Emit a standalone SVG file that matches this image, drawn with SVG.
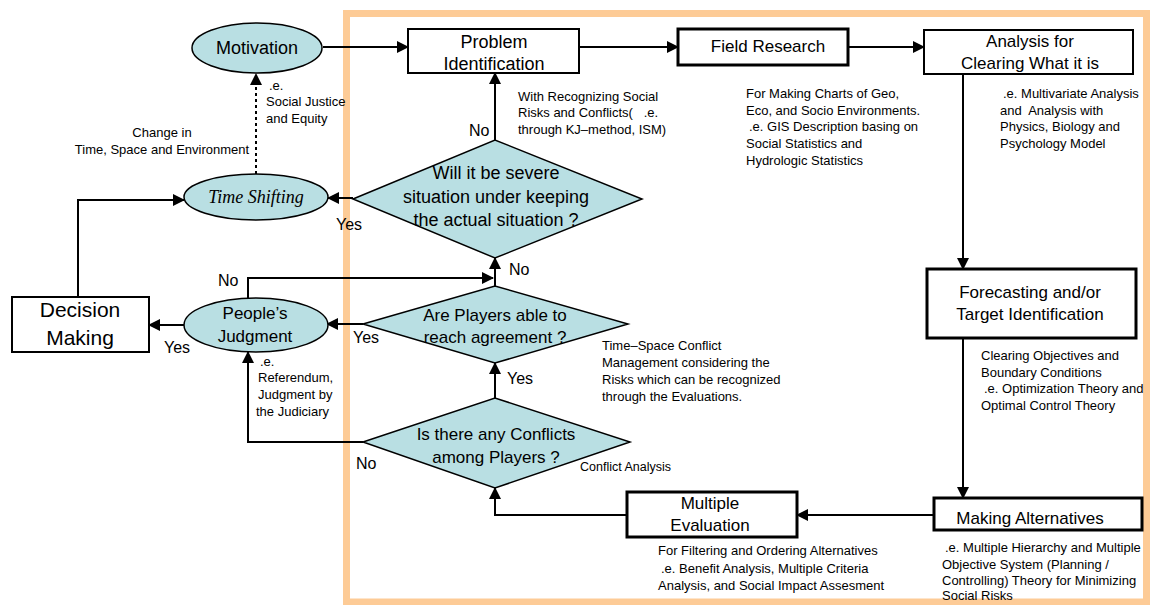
<svg xmlns="http://www.w3.org/2000/svg" width="1151" height="605" viewBox="0 0 1151 605">
<style>
text{font-family:"Liberation Sans",Arial,sans-serif;fill:#000}
.big{font-size:18px}
.mid{font-size:17px}
.lab{font-size:16px}
.note{font-size:13px}
.c{text-anchor:middle}
.oval{fill:#B9DFE3;stroke:#000;stroke-width:1.5}
.dia{fill:#B9DFE3;stroke:#000;stroke-width:1.5}
.box{fill:#fff;stroke:#000;stroke-width:2}
.box3{fill:#fff;stroke:#000;stroke-width:3}
.con{fill:none;stroke:#000;stroke-width:2}
</style>
<defs>
<marker id="ah" markerUnits="userSpaceOnUse" markerWidth="12" markerHeight="12" refX="11" refY="6" orient="auto">
<path d="M0,0 L12,6 L0,12 z" fill="#000"/>
</marker>
</defs>
<rect x="0" y="0" width="1151" height="605" fill="#fff"/>
<rect id="frame" x="346.5" y="13.5" width="800" height="588.5" fill="none" stroke="#FDCB96" stroke-width="7"/>

<g id="connectors">
<path class="con" d="M323,47 H408" marker-end="url(#ah)"/>
<path class="con" d="M579,47 H678" marker-end="url(#ah)"/>
<path class="con" d="M848,47 H924" marker-end="url(#ah)"/>
<path class="con" d="M963,74 V269" marker-end="url(#ah)"/>
<path class="con" d="M963,338 V498" marker-end="url(#ah)"/>
<path class="con" d="M934,515 H797" marker-end="url(#ah)"/>
<path class="con" d="M627,515 H495 V488" marker-end="url(#ah)"/>
<path class="con" d="M495,398 V363" marker-end="url(#ah)"/>
<path class="con" d="M495,286 V258" marker-end="url(#ah)"/>
<path class="con" d="M495,140 V73" marker-end="url(#ah)"/>
<path class="con" d="M353,198 H328" marker-end="url(#ah)"/>
<path class="con" d="M78,297 V200 H184" marker-end="url(#ah)"/>
<path class="con" d="M184,325 H149" marker-end="url(#ah)"/>
<path class="con" d="M363,324 H327" marker-end="url(#ah)"/>
<path class="con" d="M248,298 V278 H493" marker-end="url(#ah)"/>
<path class="con" d="M363,442 H248 V352" marker-end="url(#ah)"/>
<path class="con" d="M256,174 V74" stroke-dasharray="3,3" marker-end="url(#ah)"/>
<text class="lab" x="469" y="136">No</text>
<text class="lab" x="336" y="230">Yes</text>
<text class="lab" x="509" y="275">No</text>
<text class="lab" x="353" y="343">Yes</text>
<text class="lab" x="507" y="384">Yes</text>
<text class="lab" x="356" y="469">No</text>
<text class="lab" x="164" y="353">Yes</text>
<text class="lab" x="218" y="286">No</text>
</g>

<g id="motivation">
<ellipse class="oval" cx="257" cy="48" rx="65" ry="25"/>
<text class="big c" x="257" y="54">Motivation</text>
</g>
<g id="note-justice">
<text class="note" x="269" y="90">.e.</text>
<text class="note" x="266" y="106">Social Justice</text>
<text class="note" x="266" y="123">and Equity</text>
</g>
<g id="note-change">
<text class="note c" x="162" y="137">Change in</text>
<text class="note c" x="162" y="154">Time, Space and Environment</text>
</g>
<g id="time-shifting">
<ellipse class="oval" cx="256" cy="197" rx="72" ry="23"/>
<text class="c" x="256" y="203" style="font-family:'Liberation Serif','Times New Roman',serif;font-style:italic;font-size:18px">Time Shifting</text>
</g>
<g id="decision-making">
<rect class="box" x="12" y="297" width="137" height="55"/>
<text class="c" x="80" y="317" style="font-size:21px">Decision</text>
<text class="c" x="80" y="345" style="font-size:21px">Making</text>
</g>
<g id="peoples-judgment">
<ellipse class="oval" cx="256" cy="325" rx="72" ry="27"/>
<text class="mid c" x="255" y="319">People’s</text>
<text class="mid c" x="255" y="342">Judgment</text>
</g>
<g id="note-referendum">
<text class="note" x="260" y="366">.e.</text>
<text class="note" x="258" y="382">Referendum,</text>
<text class="note" x="258" y="399">Judgment by</text>
<text class="note" x="256" y="416">the Judiciary</text>
</g>
<g id="problem-identification">
<rect class="box" x="408" y="29" width="171" height="44"/>
<text class="big c" x="494" y="48">Problem</text>
<text class="big c" x="494" y="70">Identification</text>
</g>
<g id="note-recognizing">
<text class="note" x="518" y="101">With Recognizing Social</text>
<text class="note" x="518" y="117" xml:space="preserve">Risks and Conflicts(   .e.</text>
<text class="note" x="518" y="134">through KJ–method, ISM)</text>
</g>
<g id="field-research">
<rect class="box3" x="678" y="29" width="170" height="36"/>
<text class="mid c" x="768" y="52">Field Research</text>
</g>
<g id="note-field">
<text class="note" x="746" y="98">For Making Charts of Geo,</text>
<text class="note" x="746" y="115">Eco, and Socio Environments.</text>
<text class="note" x="749" y="131">.e. GIS Description basing on</text>
<text class="note" x="746" y="148">Social Statistics and</text>
<text class="note" x="746" y="165">Hydrologic Statistics</text>
</g>
<g id="analysis">
<rect class="box" x="924" y="30" width="209" height="44" stroke-width="2.5"/>
<text class="mid c" x="1030" y="47">Analysis for</text>
<text class="mid c" x="1030" y="69">Clearing What it is</text>
</g>
<g id="note-analysis">
<text class="note" x="1003" y="98">.e. Multivariate Analysis</text>
<text class="note" x="1000" y="115" xml:space="preserve">and  Analysis with</text>
<text class="note" x="1000" y="131">Physics, Biology and</text>
<text class="note" x="1000" y="148">Psychology Model</text>
</g>
<g id="forecasting">
<rect class="box3" x="927" y="269" width="209" height="69"/>
<text class="mid c" x="1030" y="298">Forecasting and/or</text>
<text class="mid c" x="1030" y="320">Target Identification</text>
</g>
<g id="note-forecasting">
<text class="note" x="981" y="360">Clearing Objectives and</text>
<text class="note" x="981" y="377">Boundary Conditions</text>
<text class="note" x="984" y="393">.e. Optimization Theory and</text>
<text class="note" x="981" y="410">Optimal Control Theory</text>
</g>
<g id="making-alternatives">
<rect class="box3" x="934" y="498" width="208" height="32"/>
<text class="mid c" x="1030" y="524">Making Alternatives</text>
</g>
<g id="note-alternatives">
<text class="note" x="945" y="552">.e. Multiple Hierarchy and Multiple</text>
<text class="note" x="942" y="569">Objective System (Planning /</text>
<text class="note" x="942" y="585">Controlling) Theory for Minimizing</text>
<text class="note" x="942" y="600">Social Risks</text>
</g>
<g id="multiple-evaluation">
<rect class="box3" x="627" y="492" width="170" height="45"/>
<text class="mid c" x="710" y="509">Multiple</text>
<text class="mid c" x="710" y="531">Evaluation</text>
</g>
<g id="note-evaluation">
<text class="note" x="658" y="555">For Filtering and Ordering Alternatives</text>
<text class="note" x="661" y="573">.e. Benefit Analysis, Multiple Criteria</text>
<text class="note" x="658" y="590">Analysis, and Social Impact Assesment</text>
</g>
<g id="severe">
<polygon class="dia" points="353,199 495,140 642,199 495,258"/>
<text class="big c" x="496" y="179">Will it be severe</text>
<text class="big c" x="496" y="203">situation under keeping</text>
<text class="big c" x="496" y="226">the actual situation ?</text>
</g>
<g id="agreement">
<polygon class="dia" points="363,324 495,286 628,324 495,363"/>
<text class="mid c" x="495" y="321">Are Players able to</text>
<text class="mid c" x="495" y="343">reach agreement ?</text>
</g>
<g id="conflicts">
<polygon class="dia" points="363,442 495,398 630,442 495,488"/>
<text class="mid c" x="496" y="440">Is there any Conflicts</text>
<text class="mid c" x="496" y="463">among Players ?</text>
</g>
<g id="note-timespace">
<text class="note" x="602" y="350">Time–Space Conflict</text>
<text class="note" x="602" y="367">Management considering the</text>
<text class="note" x="602" y="384">Risks which can be recognized</text>
<text class="note" x="602" y="401">through the Evaluations.</text>
</g>
<g id="note-conflict">
<text class="note" x="580" y="471" style="font-size:12.5px">Conflict Analysis</text>
</g>
</svg>
